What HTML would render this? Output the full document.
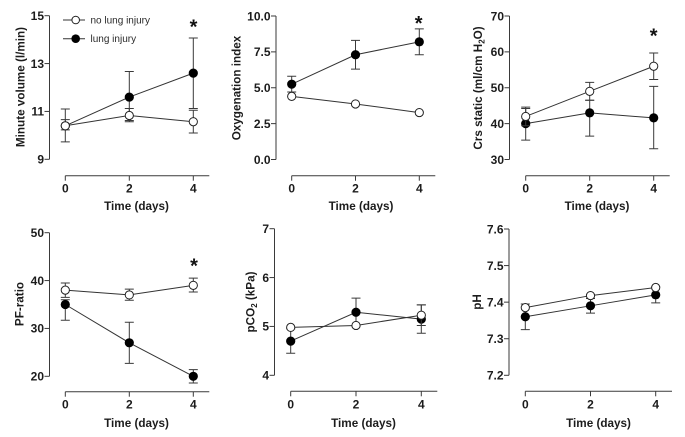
<!DOCTYPE html>
<html lang="en">
<head>
<meta charset="utf-8">
<title>Lung injury time course</title>
<style>
html,body{margin:0;padding:0;background:#fff;width:685px;height:437px;overflow:hidden}
svg{display:block;font-family:"Liberation Sans",Arial,sans-serif;filter:blur(0.25px)}
.tk{font-size:12px;font-weight:700;fill:#1c1c1c}
.ttl{font-size:11.7px;font-weight:700;fill:#1c1c1c;text-anchor:middle}
.lg{font-size:10px;fill:#2a2a2a}
.star{font-size:20px;font-weight:700;fill:#111;text-anchor:middle}
</style>
</head>
<body>
<svg id="fig" width="685" height="437" viewBox="0 0 685 437" xmlns="http://www.w3.org/2000/svg">
  <g>
    <text class="ttl" x="136.5" y="210">Time (days)</text>
    <text class="ttl" x="361" y="210">Time (days)</text>
    <text class="ttl" x="597" y="210">Time (days)</text>
    <text class="ttl" x="136.5" y="427">Time (days)</text>
    <text class="ttl" x="363.5" y="427">Time (days)</text>
    <text class="ttl" x="598.5" y="427">Time (days)</text>
  </g>
  <g>
    <text class="ttl" transform="translate(24.5 87) rotate(-90)">Minute volume (l/min)</text>
    <text class="ttl" transform="translate(240.5 88) rotate(-90)">Oxygenation index</text>
    <text class="ttl" transform="translate(482 88) rotate(-90)">Crs static (ml/cm H<tspan font-size="8" dy="2.5">2</tspan><tspan dy="-2.5">O)</tspan></text>
    <text class="ttl" transform="translate(23.5 304) rotate(-90)">PF-ratio</text>
    <text class="ttl" transform="translate(254.5 302) rotate(-90)">pCO<tspan font-size="8" dy="2.5">2</tspan><tspan dy="-2.5"> (kPa)</tspan></text>
    <text class="ttl" transform="translate(481 302) rotate(-90)">pH</text>
  </g>
  <g id="plots"></g>
  <g>
    <text class="star" x="193.5" y="33.5">*</text>
    <text class="star" x="418.7" y="30">*</text>
    <text class="star" x="653.7" y="42.5">*</text>
    <text class="star" x="194" y="272.5">*</text>
  </g>
  <g>
    <g>
      <line x1="63" y1="20" x2="85" y2="20" stroke="#333" stroke-width="1"/>
      <circle cx="75.7" cy="20" r="3.8" fill="#fff" stroke="#222" stroke-width="1"/>
      <text class="lg" x="90.5" y="23.5">no lung injury</text>
    </g>
    <g>
      <line x1="63" y1="38.7" x2="85" y2="38.7" stroke="#333" stroke-width="1"/>
      <circle cx="75.7" cy="38.7" r="4.3" fill="#000"/>
      <text class="lg" x="90.5" y="42.2">lung injury</text>
    </g>
  </g>
</svg>
<script>
// Shared x categories
const days = [0, 2, 4];

// Minute volume
const mvTicks = ['9', '11', '13', '15'];
const mvInjury = [10.4, 11.6, 12.6];
const mvInjuryUp = [10.66, 12.67, 14.07];
const mvInjuryDown = [10.23, 10.57, 11.12];
const mvNone = [10.4, 10.83, 10.57];
const mvNoneUp = [11.1, 11.12, 11.05];
const mvNoneDown = [9.73, 10.62, 10.1];

// Oxygenation index
const oxTicks = ['0.0', '2.5', '5.0', '7.5', '10.0'];
const oxInjury = [5.25, 7.3, 8.2];
const oxInjuryUp = [5.8, 8.3, 9.1];
const oxInjuryDown = [4.7, 6.3, 7.3];
const oxNone = [4.4, 3.87, 3.27];
const oxNoneUp = [4.4, 3.87, 3.27];
const oxNoneDown = [4.4, 3.87, 3.27];

// Crs static
const crsTicks = ['30', '40', '50', '60', '70'];
const crsInjury = [40, 43, 41.6];
const crsInjuryUp = [44.2, 46.5, 50.4];
const crsInjuryDown = [35.4, 36.5, 33];
const crsNone = [42, 49, 56];
const crsNoneUp = [44.6, 51.5, 59.7];
const crsNoneDown = [39.4, 46.5, 52.3];

// PF-ratio
const pfTicks = ['20', '30', '40', '50'];
const pfInjury = [35, 27, 20];
const pfInjuryUp = [36, 31.3, 21.4];
const pfInjuryDown = [31.7, 22.7, 18.6];
const pfNone = [38, 37, 39];
const pfNoneUp = [39.5, 38.2, 40.5];
const pfNoneDown = [36.5, 35.9, 37.6];

// pCO2
const co2Ticks = ['4', '5', '6', '7'];
const co2Injury = [4.7, 5.29, 5.15];
const co2InjuryUp = [4.95, 5.58, 5.44];
const co2InjuryDown = [4.45, 5.0, 4.86];
const co2None = [4.98, 5.02, 5.23];
const co2NoneUp = [4.98, 5.02, 5.44];
const co2NoneDown = [4.98, 5.02, 5.02];

// pH
const phTicks = ['7.2', '7.3', '7.4', '7.5', '7.6'];
const phInjury = [7.36, 7.39, 7.42];
const phInjuryUp = [7.395, 7.41, 7.442];
const phInjuryDown = [7.325, 7.37, 7.398];
const phNone = [7.385, 7.418, 7.44];
const phNoneUp = [7.385, 7.418, 7.44];
const phNoneDown = [7.385, 7.418, 7.44];

const NS = 'http://www.w3.org/2000/svg';
const root = document.getElementById('plots');

function mk(tag, attrs, parent) {
  const el = document.createElementNS(NS, tag);
  for (const k in attrs) el.setAttribute(k, attrs[k]);
  parent.appendChild(el);
  return el;
}

function drawPanel(id, box, ticks, injury, injuryUp, injuryDown, none, noneUp, noneDown) {
  const yVals = ticks.map(Number);
  const yMin = Math.min.apply(null, yVals);
  const yMax = Math.max.apply(null, yVals);
  const xMax = Math.max.apply(null, days);
  const sx = function (v) { return box.x0 + (box.x4 - box.x0) * v / xMax; };
  const sy = function (v) { return box.yBottom + (box.yTop - box.yBottom) * (v - yMin) / (yMax - yMin); };
  const axisStyle = { stroke: '#3a3a3a', 'stroke-width': 1, fill: 'none' };

  const g = mk('g', {}, root);
  
  

  const yAxis = mk('g', {}, g);
  
  
  mk('line', Object.assign({ x1: box.yAxisX, x2: box.yAxisX, y1: box.yTop, y2: box.yBottom }, axisStyle), yAxis);
  ticks.forEach(function (t, i) {
    const y = sy(yVals[i]);
    mk('line', Object.assign({ x1: box.yAxisX - 5, x2: box.yAxisX, y1: y, y2: y }, axisStyle), yAxis);
    const lbl = mk('text', { class: 'tk', x: box.yAxisX - 5.5, y: y + 4.3, 'text-anchor': 'end' }, yAxis);
    
    
    lbl.textContent = t;
  });

  const xAxis = mk('g', {}, g);
  
  
  mk('line', Object.assign({ x1: sx(0), x2: box.xEnd, y1: box.xAxisY, y2: box.xAxisY }, axisStyle), xAxis);
  days.forEach(function (d) {
    mk('line', Object.assign({ x1: sx(d), x2: sx(d), y1: box.xAxisY, y2: box.xAxisY + 5 }, axisStyle), xAxis);
    const lbl = mk('text', { class: 'tk', x: sx(d), y: box.xAxisY + 17, 'text-anchor': 'middle' }, xAxis);
    
    
    lbl.textContent = String(d);
  });

  function series(name, vals, up, down, isFilled) {
    const s = mk('g', {}, g);
    
    
    const line = mk('polyline', {
      points: days.map(function (d, i) { return sx(d) + ',' + sy(vals[i]); }).join(' '),
      fill: 'none', stroke: '#333', 'stroke-width': 1
    }, s);
    
    
    days.forEach(function (d, i) {
      const x = sx(d);
      const hi = sy(up[i]);
      const lo = sy(down[i]);
      if (hi !== lo) {
        const e = mk('path', {
          d: 'M' + x + ' ' + hi + 'V' + lo + 'M' + (x - 4.5) + ' ' + hi + 'H' + (x + 4.5) + 'M' + (x - 4.5) + ' ' + lo + 'H' + (x + 4.5),
          fill: 'none', stroke: '#3a3a3a', 'stroke-width': 1
        }, s);
        
        
      }
    });
    days.forEach(function (d, i) {
      const p = mk('circle', isFilled
        ? { cx: sx(d), cy: sy(vals[i]), r: 4.6, fill: '#000' }
        : { cx: sx(d), cy: sy(vals[i]), r: 4.1, fill: '#fff', stroke: '#222', 'stroke-width': 1 }, s);
      
      
    });
  }

  series('lung-injury', injury, injuryUp, injuryDown, true);
  series('no-lung-injury', none, noneUp, noneDown, false);
}

drawPanel('minute-volume', { yAxisX: 49.5, yTop: 15.7, yBottom: 159.3, x0: 65.3, x4: 193.3, xEnd: 209.3, xAxisY: 175.7 },
  mvTicks, mvInjury, mvInjuryUp, mvInjuryDown, mvNone, mvNoneUp, mvNoneDown);
drawPanel('oxygenation', { yAxisX: 276, yTop: 16, yBottom: 159.5, x0: 291.7, x4: 419.3, xEnd: 435.3, xAxisY: 175.7 },
  oxTicks, oxInjury, oxInjuryUp, oxInjuryDown, oxNone, oxNoneUp, oxNoneDown);
drawPanel('crs-static', { yAxisX: 509.5, yTop: 16, yBottom: 159.5, x0: 525.7, x4: 653.7, xEnd: 669.7, xAxisY: 175.7 },
  crsTicks, crsInjury, crsInjuryUp, crsInjuryDown, crsNone, crsNoneUp, crsNoneDown);
drawPanel('pf-ratio', { yAxisX: 49.5, yTop: 232.7, yBottom: 376.3, x0: 65.3, x4: 193.3, xEnd: 209.3, xAxisY: 391.7 },
  pfTicks, pfInjury, pfInjuryUp, pfInjuryDown, pfNone, pfNoneUp, pfNoneDown);
drawPanel('pco2', { yAxisX: 274.5, yTop: 228.7, yBottom: 375.3, x0: 290.7, x4: 421.3, xEnd: 437.3, xAxisY: 391.3 },
  co2Ticks, co2Injury, co2InjuryUp, co2InjuryDown, co2None, co2NoneUp, co2NoneDown);
drawPanel('ph', { yAxisX: 509, yTop: 229, yBottom: 375.3, x0: 525.3, x4: 655.7, xEnd: 672, xAxisY: 391.3 },
  phTicks, phInjury, phInjuryUp, phInjuryDown, phNone, phNoneUp, phNoneDown);
</script>
</body>
</html>
